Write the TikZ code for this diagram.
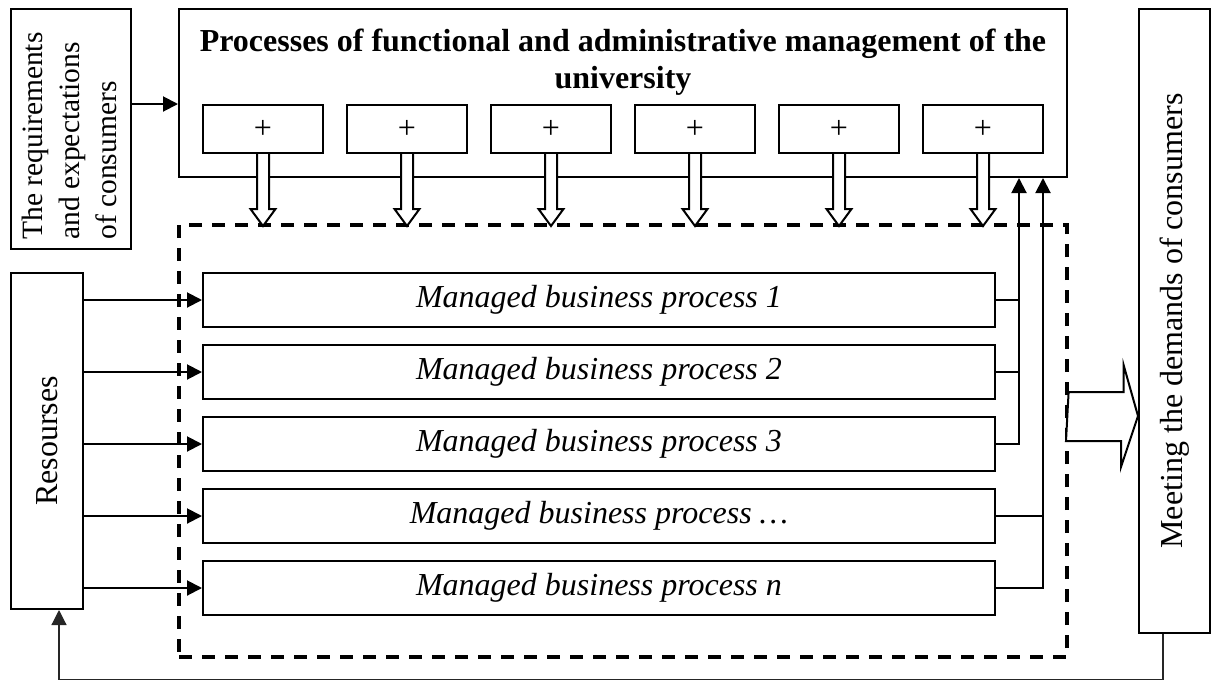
\documentclass[tikz,border=0pt]{standalone}
\usepackage{fontspec}
\setmainfont{Liberation Serif}
\usetikzlibrary{positioning,shapes,arrows.meta,calc}
\newcommand{\txtsize}{\fontsize{32}{37}\selectfont}

\begin{document}
\begin{tikzpicture}[x=1pt,y=-1pt]
\tikzstyle{every node}=[inner sep=0pt,font=\txtsize];
\tikzstyle{box}=[draw,line width=2pt,fill=white];
\tikzstyle{wide}=[-{Triangle[length=15pt,width=15pt]},line width=2pt];
\tikzstyle{hollow}=[draw,fill=white,line width=2pt,line join=miter];

\useasboundingbox (0,0) rectangle (1211,681);

% frame round the managed processes
\draw node[draw,line width=3.2pt,dash pattern=on 13pt off 10pt,minimum width=888,minimum height=432] (frame) at (623,441) {};

\draw node[box,minimum width=120,minimum height=240] (req) at (71,129) {};
\draw node[rotate=90,align=left,font=\fontsize{29.5}{37}\selectfont] (req-t) at (69,136) {The requirements\\and expectations\\of consumers};

\draw node[box,minimum width=888,minimum height=168] (top) at (623,93) {};
\draw node[align=center,font=\txtsize\bfseries] (title) at (623,62) {Processes of functional and administrative management of the\\university};
\foreach \i in {1,...,6}
  \draw node[box,minimum width=120,minimum height=48] (pl\i) at ({263+144*(\i-1)},129) {+};

\foreach \i/\t in {1/1,2/2,3/3,4/…,5/n}
  \draw node[box,minimum width=792,minimum height=54,font=\txtsize\itshape] (bp\i) at (599,{300+72*(\i-1)}) {Managed business process \t};

\draw node[box,minimum width=72,minimum height=336] (res) at (47,441) {};
\draw node[rotate=90] (res-t) at (res) {Resourses};

\draw node[box,minimum width=71,minimum height=624] (meet) at (1174.5,321) {};
\draw node[rotate=90] (meet-t) at (meet) {Meeting the demands of consumers};

% inputs
\draw[wide] (req.east |- pl1.north) -- (top.west |- pl1.north);
\foreach \i in {1,...,5}
  \draw[wide] (res.east |- bp\i.west) -- (bp\i.west);

% control arrows
\foreach \i in {1,...,6}
  \draw[hollow] ($(pl\i.south)+(-6,0)$) -- ++(0,55) -- ++(-6.5,0) -- ($(pl\i.south)+(0,72)$) -- ($(pl\i.south)+(12.5,55)$) -- ++(-6.5,0) -- ++(0,-55);

% feedback to management
\coordinate (up1) at (1019,178);
\coordinate (up2) at (1043,178);
\draw[line width=2pt] (bp1.east) -- (bp1.east -| up1);
\draw[line width=2pt] (bp2.east) -- (bp2.east -| up1);
\draw[wide] (bp3.east) -| (up1);
\draw[line width=2pt] (bp4.east) -- (bp4.east -| up2);
\draw[wide] (bp5.east) -| (up2);

% output
\coordinate (tip) at (meet.west |- bp3.north);
\draw[hollow] ($(frame.east |- tip)+(0,-24)$) -- ++(55,0) -- ++(0,-27) -- (tip) -- ++(-17,51) -- ++(0,-26) -- ++(-55,0) -- cycle;

\coordinate (fbr) at (1163,679.5);
\coordinate (fbl) at (59,679.5);
\draw[line width=1.2pt,black!85,-{Triangle[length=15pt,width=15pt]}] (meet.south -| fbr) -- (fbr) -- (fbl) -- (res.south -| fbl);
\end{tikzpicture}
\end{document}
